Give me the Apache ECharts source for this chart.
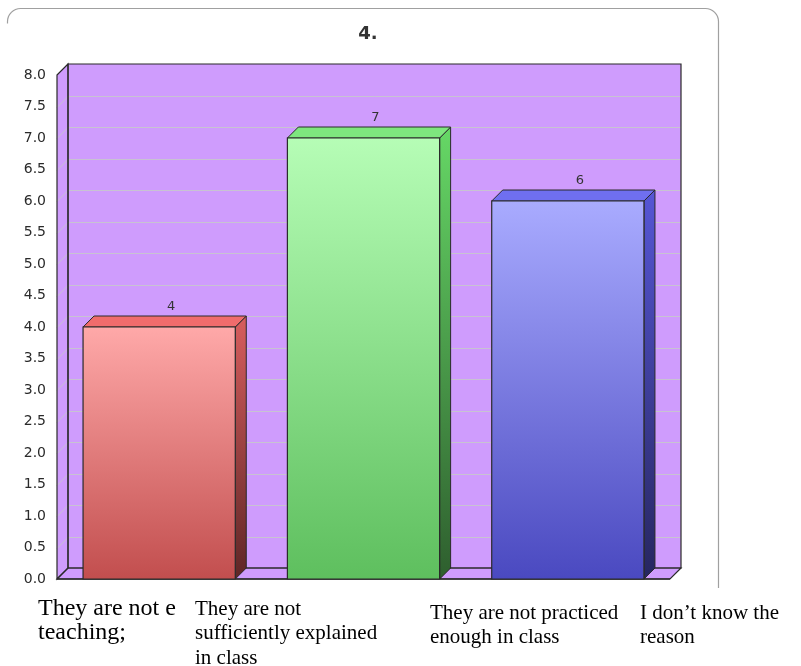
<!DOCTYPE html>
<html>
<head>
<meta charset="utf-8">
<script src="https://cdn.jsdelivr.net/npm/echarts@6/dist/echarts.min.js"></script>
<style>
  html, body { margin: 0; padding: 0; background: #ffffff; }
  #chart { width: 801px; height: 666px; }
</style>
</head>
<body>
<div id="chart"></div>
<script>
// Survey question 4: number of answers per reason
const categories = ['Not sufficiently explained', 'Not practiced enough', 'Other'];
const counts = [4, 7, 6];
const yTicks = [0, 0.5, 1, 1.5, 2, 2.5, 3, 3.5, 4, 4.5, 5, 5.5, 6, 6.5, 7, 7.5, 8];
const answerLines = [
  ['They are not e', 'teaching;'],
  ['They are not', 'sufficiently explained', 'in class'],
  ['They are not practiced', 'enough in class'],
  ['I don\u2019t know the', 'reason']
];
const chartTitle = '4.';

// depth of the pseudo-3D extrusion (pixels)
const DEPTH = 11;
const WALL = '#cf9cfd';
const EDGE = '#2a2a2a';
const GRID = '#c8c2d2';

const barPalette = [
  { front: ['#ffa9a9', '#c24e4e'], top: '#f06c6c', side: ['#d85e5e', '#5e2626'] },
  { front: ['#b6fdb6', '#5ebf5e'], top: '#7ee67e', side: ['#66d866', '#2e5e2e'] },
  { front: ['#a9abff', '#4a49c0'], top: '#6f6ff0', side: ['#5656d6', '#262660'] }
];

const grad = (a, b) => new echarts.graphic.LinearGradient(0, 0, 0, 1, [
  { offset: 0, color: a }, { offset: 1, color: b }
]);

function renderWalls(params, api) {
  const cs = params.coordSys;
  const left = cs.x, right = cs.x + cs.width;
  const yTop = api.coord([0, yTicks[yTicks.length - 1]])[1];
  const yBase = api.coord([0, yTicks[0]])[1];
  const d = DEPTH;
  const children = [];
  // back wall
  children.push({ type: 'rect', shape: { x: left + d, y: yTop - d, width: right - left, height: yBase - yTop },
    style: { fill: WALL } });
  // side wall
  children.push({ type: 'polygon', shape: { points: [[left, yTop], [left + d, yTop - d], [left + d, yBase - d], [left, yBase]] },
    style: { fill: WALL } });
  // floor
  children.push({ type: 'polygon', shape: { points: [[left, yBase], [left + d, yBase - d], [right + d, yBase - d], [right, yBase]] },
    style: { fill: WALL, stroke: EDGE, lineWidth: 1.2 } });
  // grid lines on the back wall and the side wall
  yTicks.slice(1, -1).forEach(v => {
    const y = Math.round(api.coord([0, v])[1]) + 0.5;
    children.push({ type: 'line', shape: { x1: left + d, y1: y - d, x2: right + d, y2: y - d },
      style: { stroke: GRID, lineWidth: 1 } });
    children.push({ type: 'line', shape: { x1: left, y1: y, x2: left + d, y2: y - d },
      style: { stroke: GRID, lineWidth: 1 } });
  });
  // outlines
  children.push({ type: 'rect', shape: { x: left + d, y: yTop - d, width: right - left, height: yBase - yTop },
    style: { fill: 'none', stroke: EDGE, lineWidth: 1.2 } });
  children.push({ type: 'polygon', shape: { points: [[left, yTop], [left + d, yTop - d], [left + d, yBase - d], [left, yBase]] },
    style: { fill: 'none', stroke: EDGE, lineWidth: 1.2 } });
  children.push({ type: 'line', shape: { x1: left, y1: yBase, x2: right, y2: yBase },
    style: { stroke: EDGE, lineWidth: 1.6 } });
  return { type: 'group', children };
}

function renderBar(params, api) {
  const idx = api.value(0);
  const val = api.value(1);
  const base = api.coord([idx, 0]);
  const top = api.coord([idx, val]);
  const bw = api.size([1, 0])[0] * 0.745;
  const d = DEPTH;
  const x0 = base[0] - bw / 2, x1 = base[0] + bw / 2;
  const y0 = top[1], yb = base[1];
  const c = barPalette[params.dataIndex % barPalette.length];
  return {
    type: 'group',
    children: [
      { type: 'polygon', shape: { points: [[x1, y0], [x1 + d, y0 - d], [x1 + d, yb - d], [x1, yb]] },
        style: { fill: grad(c.side[0], c.side[1]), stroke: EDGE, lineWidth: 1 } },
      { type: 'polygon', shape: { points: [[x0, y0], [x0 + d, y0 - d], [x1 + d, y0 - d], [x1, y0]] },
        style: { fill: c.top, stroke: EDGE, lineWidth: 1 } },
      { type: 'rect', shape: { x: x0, y: y0, width: bw, height: yb - y0 },
        style: { fill: grad(c.front[0], c.front[1]), stroke: EDGE, lineWidth: 1.2 } },
      { type: 'text', x: base[0] + d + 1, y: y0 - d - 3,
        style: { text: String(val), fill: '#333', font: '13px "DejaVu Sans", sans-serif',
          align: 'center', verticalAlign: 'bottom' } }
    ]
  };
}

const labelPos = [
  { x: 38, y: 596, size: 24 },
  { x: 195, y: 597, size: 21 },
  { x: 430, y: 601, size: 21 },
  { x: 640, y: 601, size: 21 }
];

const answerGraphics = answerLines.map((lines, i) => ({
  type: 'text',
  left: labelPos[i].x,
  top: labelPos[i].y,
  z: 10,
  style: {
    text: lines.join('\n'),
    fill: '#000',
    font: labelPos[i].size + 'px "Liberation Serif", "Times New Roman", serif',
    lineHeight: 24.5
  }
}));

// rounded frame: top edge with two corners and the right edge
function framePoints() {
  const pts = [];
  const r = 13, l = 7.5, t = 8.5, rt = 718.5, b = 588;
  pts.push([l, t + r + 2]);
  for (let k = 0; k <= 8; k++) {
    const a = Math.PI + (Math.PI / 2) * (k / 8);
    pts.push([l + r + r * Math.cos(a), t + r + r * Math.sin(a)]);
  }
  for (let k = 0; k <= 8; k++) {
    const a = -Math.PI / 2 + (Math.PI / 2) * (k / 8);
    pts.push([rt - r + r * Math.cos(a), t + r + r * Math.sin(a)]);
  }
  pts.push([rt, b]);
  return pts;
}

const chart = echarts.init(document.getElementById('chart'), null, { renderer: 'canvas' });
chart.setOption({
  animation: false,
  backgroundColor: '#ffffff',
  title: {
    text: chartTitle,
    left: 363,
    top: 20,
    textAlign: 'center',
    textStyle: { fontSize: 18, fontWeight: 'bold', color: '#333', fontFamily: '"DejaVu Sans", sans-serif' }
  },
  grid: { left: 57, top: 75, width: 613, height: 504 },
  xAxis: {
    type: 'category',
    data: categories,
    axisLine: { show: false },
    axisTick: { show: false },
    axisLabel: { show: false },
    splitLine: { show: false }
  },
  yAxis: {
    type: 'value',
    min: yTicks[0],
    max: yTicks[yTicks.length - 1],
    interval: yTicks[1] - yTicks[0],
    axisLine: { show: false },
    axisTick: { show: false },
    splitLine: { show: false },
    axisLabel: {
      margin: 11,
      color: '#2a2a2a',
      fontSize: 14,
      fontFamily: '"DejaVu Sans", sans-serif',
      formatter: v => v.toFixed(1)
    }
  },
  series: [
    {
      type: 'custom',
      name: 'walls',
      z: 1,
      silent: true,
      renderItem: renderWalls,
      data: [[0, 0]]
    },
    {
      type: 'custom',
      name: 'answers',
      z: 2,
      renderItem: renderBar,
      encode: { x: 0, y: 1 },
      data: counts.map((v, i) => [i, v])
    }
  ],
  graphic: [
    {
      type: 'polyline',
      z: 0,
      shape: { points: framePoints() },
      style: { fill: 'none', stroke: '#a0a0a0', lineWidth: 1.2 }
    }
  ].concat(answerGraphics)
});
</script>
</body>
</html>
